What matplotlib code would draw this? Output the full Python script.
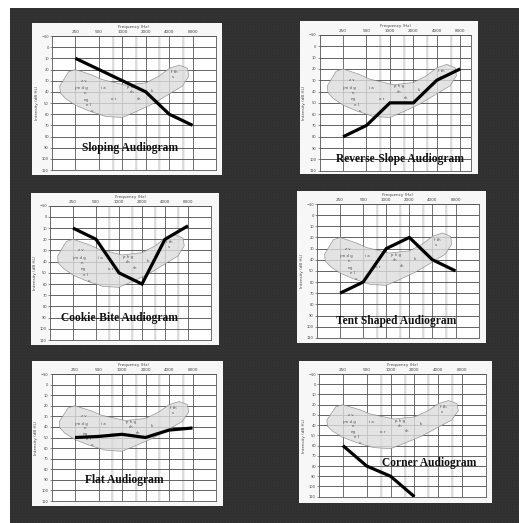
import numpy as np
import matplotlib.pyplot as plt

W, H = 519, 523

# audiogram grid
freqs = [250, 500, 1000, 2000, 4000, 8000]
freq_labels = ['250', '500', '1000', '2000', '4000', '8000']
half_freqs = [750, 1500, 3000, 6000]
db_ticks = list(range(-10, 120, 10))

# hearing thresholds (dB HL) per panel
sloping = [10, 20, 30, 40, 60, 70]
reverse_slope = [80, 70, 50, 50, 30, 20]
cookie_bite = [10, 20, 50, 60, 20, 8]
tent_shaped = [70, 60, 30, 20, 40, 50]
flat = [50, 49, 47, 50, 43, 41]
corner_freqs = [250, 500, 1000, 2000]
corner = [60, 80, 90, 110]

# speech banana outline
banana_hz = [157, 204, 250, 410, 550, 1100, 2000, 2950, 4000, 5400, 6900,
             7150, 5900, 4000, 2430, 1470, 1000, 610, 370, 250, 186, 160]
banana_db = [35, 22, 20, 25, 29, 34, 32, 26, 19, 16, 19,
             26, 35, 42, 51, 58, 63, 62, 57, 52, 46, 41]

# speech sounds inside the banana
sounds = ['z v', 'j m d g', 'n', 'ng', 'e l', 'u', 'i a', 'o r',
          'p h g', 'ch', 'sh', 'k', 'f th', 's']
sound_hz = [319, 297, 330, 341, 366, 406, 574, 784, 1320, 1320, 1625, 2378, 4595, 4438]
sound_db = [30, 37, 41, 47, 51.5, 57, 37, 46.5, 35.5, 40.5, 46, 39, 22, 27]

titles = ['Sloping Audiogram', 'Reverse-Slope Audiogram', 'Cookie-Bite Audiogram',
          'Tent Shaped Audiogram', 'Flat Audiogram', 'Corner Audiogram']

# layout in pixels: box (x0,y0,x1,y1), plot (x0,y0,x1,y1), right xlim, title pos (Hz, dB)
panels = [
    dict(box=(32, 23, 222, 175), plot=(52, 36, 216, 170), xmax=16000,
         fx=freqs, vals=sloping, tpos=(1275, 90)),
    dict(box=(300, 21, 478, 174), plot=(319.6, 35, 471, 170.7), xmax=11000,
         fx=freqs, vals=reverse_slope, tpos=(1357, 100)),
    dict(box=(31, 193, 219, 345), plot=(50, 205.7, 211, 340), xmax=16000,
         fx=freqs, vals=cookie_bite, tpos=(1028, 90)),
    dict(box=(297, 191, 486, 343), plot=(317, 204, 478.6, 337.8), xmax=16000,
         fx=freqs, vals=tent_shaped, tpos=(1366, 95)),
    dict(box=(32, 361, 223, 506), plot=(51.5, 374, 216, 501), xmax=16000,
         fx=freqs, vals=flat, tpos=(1072, 90.5)),
    dict(box=(299, 361, 492, 503), plot=(319, 374, 486, 496.7), xmax=16000,
         fx=corner_freqs, vals=corner, tpos=(3031, 77.5)),
]


def rect(x0, y0, x1, y1):
    return [x0 / W, 1 - y1 / H, (x1 - x0) / W, (y1 - y0) / H]


fig = plt.figure(figsize=(W / 100, H / 100), dpi=100, facecolor='white')

# dark textured background
bg = fig.add_axes(rect(10, 8, W, H))
yy, xx = np.indices((H - 8, W - 10))
tex = np.where((xx % 3 == 0) ^ (yy % 3 == 0), 0.205, 0.185)
bg.imshow(tex, cmap='gray', vmin=0, vmax=1, aspect='auto', interpolation='nearest')
bg.axis('off')

for p, title in zip(panels, titles):
    bx = fig.add_axes(rect(*p['box']))
    bx.set_facecolor('#f7f7f7')
    bx.set_xticks([])
    bx.set_yticks([])
    for s in bx.spines.values():
        s.set_visible(False)

    ax = fig.add_axes(rect(*p['plot']))
    ax.set_facecolor('white')
    ax.set_xscale('log', base=2)
    ax.set_xlim(125, p['xmax'])
    ax.set_ylim(110, -10)

    for f in half_freqs:
        ax.axvline(f, color='#ececec', lw=1.8, zorder=0)
        ax.axvline(f, color='#a8a8a8', lw=0.35, zorder=0.5)
    for f in freqs:
        ax.axvline(f, color='#5a5a5a', lw=0.6, zorder=1)
    for d in db_ticks:
        ax.axhline(d, color='#4a4a4a', lw=0.6, zorder=1)

    ax.fill(banana_hz, banana_db, facecolor='#dcdcdc', edgecolor='#808080',
            lw=0.5, alpha=0.8, zorder=2, joinstyle='round')
    for s, fh, db in zip(sounds, sound_hz, sound_db):
        ax.text(fh, db, s, fontsize=2.8, color='#4a4a4a', ha='center', va='center', zorder=3)

    ax.plot(p['fx'], p['vals'], color='black', lw=2.3, zorder=4,
            solid_joinstyle='miter', solid_capstyle='butt')

    ax.text(p['tpos'][0], p['tpos'][1], title, family='Liberation Serif', fontweight='bold',
            fontsize=8.3, ha='center', va='center', color='#111111', zorder=5)

    ax.xaxis.tick_top()
    ax.set_xticks(freqs)
    ax.set_xticklabels(freq_labels)
    ax.minorticks_off()
    ax.set_yticks(db_ticks)
    ax.tick_params(axis='x', length=0, labelsize=3, pad=1.2, colors='#444444')
    ax.tick_params(axis='y', length=1.2, width=0.4, labelsize=2.6, pad=1, colors='#444444')
    ax.xaxis.set_label_position('top')
    ax.set_xlabel('Frequency (Hz)', fontsize=3, labelpad=1.5, color='#444444')
    ax.set_ylabel('Intensity (dB HL)', fontsize=3, labelpad=2, color='#444444')
    for s in ax.spines.values():
        s.set_color('#555555')
        s.set_linewidth(0.6)

fig.savefig('out.png', dpi=100, facecolor='white')
